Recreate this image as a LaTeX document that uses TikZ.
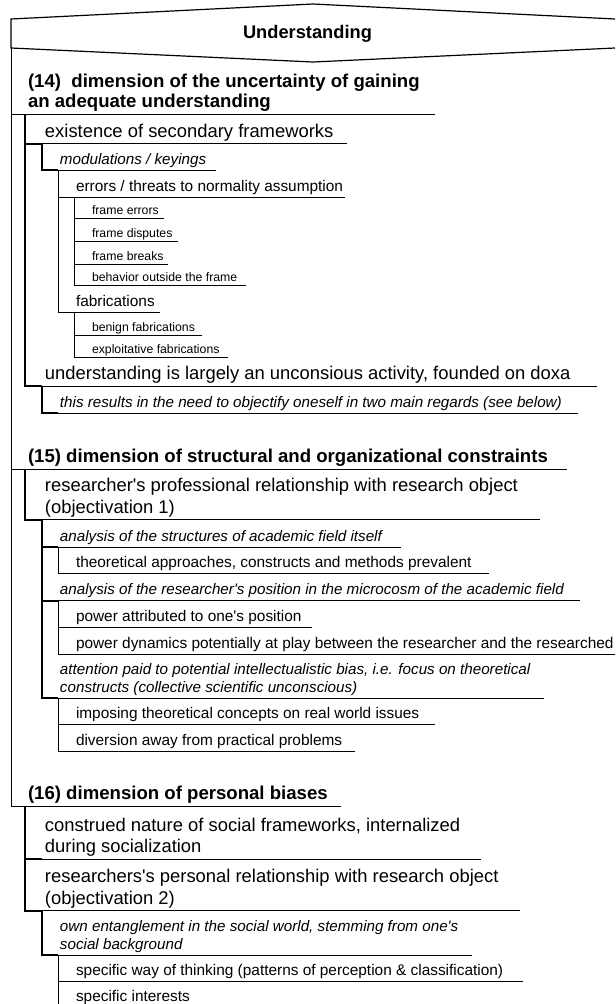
\documentclass[tikz,border=0pt]{standalone}
\usepackage{fontspec}
% keep the straight apostrophe of the font
\setmainfont{Liberation Sans}[Ligatures=TeXOff]
\begin{document}
\begin{tikzpicture}[x=0.75pt,y=-0.75pt,
  line join=miter,
  thinedge/.style={line width=0.75pt},
  thickedge/.style={line width=1.5pt},
  uline/.style={line width=0.75pt},
  lbl/.style={anchor=base west, inner sep=0pt, outer sep=0pt},
  fhead/.style={font=\fontsize{13.95}{15}\selectfont\bfseries},
  fbig/.style={font=\fontsize{13.8}{16.1}\selectfont},
  fital/.style={font=\fontsize{11.4}{13.5}\selectfont\itshape},
  fmid/.style={font=\fontsize{11.55}{13.5}\selectfont},
  fsmall/.style={font=\fontsize{9.2}{11}\selectfont}]
\useasboundingbox (0,0) rectangle (615,1004);
\clip (0,0) rectangle (615,1004);

% title banner
\coordinate (hdrBL) at (11,48);
\draw[line width=0.9pt] (615,19) -- (313,4) -- (11,19) -- (hdrBL) -- (313,62) -- (615,48);
\node[inner sep=0pt, anchor=base, font=\fontsize{13.7}{15}\selectfont\bfseries] (root) at (307.5,38.5) {Understanding};

% ---------- anchors of the underlines (start points) ----------
\coordinate (h14) at (25,114);
\coordinate (h15) at (25,469);
\coordinate (h16) at (25,806);
\coordinate (a1) at (42,143.5);
\coordinate (a2) at (42,386);
\coordinate (b1) at (42,519.5);
\coordinate (c1) at (42,859);
\coordinate (c2) at (42,910.5);
\coordinate (a11) at (58,170);
\coordinate (a21) at (58,413);
\coordinate (b11) at (58,547);
\coordinate (b12) at (58,600.5);
\coordinate (b13) at (58,698);
\coordinate (c21) at (58,955);
\coordinate (a111) at (74,197.5);
\coordinate (a112) at (74,312);
\coordinate (b111) at (74,573.5);
\coordinate (b121) at (74,627.5);
\coordinate (b122) at (74,654);
\coordinate (b131) at (74,724.5);
\coordinate (b132) at (74,751.5);
\coordinate (c211) at (74,981.5);
\coordinate (c212) at (74,1008);
\coordinate (f1) at (90,218.5);
\coordinate (f2) at (90,241.5);
\coordinate (f3) at (90,264);
\coordinate (f4) at (90,285.5);
\coordinate (g1) at (90,335.5);
\coordinate (g2) at (90,357);

% ---------- texts ----------
\node[lbl, fhead] (t14) at (28,107.5) {\begin{tabular}[b]{@{}l@{}}(14)\ \ dimension of the uncertainty of gaining\\ an adequate understanding\end{tabular}};
\node[lbl, fhead] (t15) at (28,462.5) {(15) dimension of structural and organizational constraints};
\node[lbl, fhead] (t16) at (28,799.5) {(16) dimension of personal biases};

\node[lbl, fbig] (ta1) at (45,137) {existence of secondary frameworks};
\node[lbl, fbig] (ta2) at (45,379.5) {understanding is largely an unconsious activity, founded on doxa};
\node[lbl, fbig] (tb1) at (45,513) {\begin{tabular}[b]{@{}l@{}}researcher's professional relationship with research object\\ (objectivation 1)\end{tabular}};
\node[lbl, fbig] (tc1) at (45,852.5) {\begin{tabular}[b]{@{}l@{}}construed nature of social frameworks, internalized\\ during socialization\end{tabular}};
\node[lbl, fbig] (tc2) at (45,904) {\begin{tabular}[b]{@{}l@{}}researchers's personal relationship with research object\\ (objectivation 2)\end{tabular}};

\node[lbl, fital] (ta11) at (60,164) {modulations / keyings};
\node[lbl, fital] (ta21) at (60,407) {this results in the need to objectify oneself in two main regards (see below)};
\node[lbl, fital] (tb11) at (60,541) {analysis of the structures of academic field itself};
\node[lbl, fital] (tb12) at (60,594.5) {analysis of the researcher's position in the microcosm of the academic field};
\node[lbl, fital] (tb13) at (60,692) {\begin{tabular}[b]{@{}l@{}}attention paid to potential intellectualistic bias, i.e. focus on theoretical\\ constructs (collective scientific unconscious)\end{tabular}};
\node[lbl, fital] (tc21) at (60,949) {\begin{tabular}[b]{@{}l@{}}own entanglement in the social world, stemming from one's\\ social background\end{tabular}};

\node[lbl, fmid] (ta111) at (76,191.5) {errors / threats to normality assumption};
\node[lbl, fmid] (ta112) at (76,306) {fabrications};
\node[lbl, fmid] (tb111) at (76,567.5) {theoretical approaches, constructs and methods prevalent};
\node[lbl, fmid] (tb121) at (76,621.5) {power attributed to one's position};
\node[lbl, fmid] (tb122) at (76,648) {power dynamics potentially at play between the researcher and the researched};
\node[lbl, fmid] (tb131) at (76,718.5) {imposing theoretical concepts on real world issues};
\node[lbl, fmid] (tb132) at (76,745.5) {diversion away from practical problems};
\node[lbl, fmid] (tc211) at (76,975.5) {specific way of thinking (patterns of perception \& classification)};
\node[lbl, fmid] (tc212) at (76,1001) {specific interests};

\node[lbl, fsmall] (tf1) at (92,214.5) {frame errors};
\node[lbl, fsmall] (tf2) at (92,237.5) {frame disputes};
\node[lbl, fsmall] (tf3) at (92,260) {frame breaks};
\node[lbl, fsmall] (tf4) at (92,281.5) {behavior outside the frame};
\node[lbl, fsmall] (tg1) at (92,331.5) {benign fabrications};
\node[lbl, fsmall] (tg2) at (92,353) {exploitative fabrications};

% ---------- underlines ----------
\draw[uline] (h14) -- (435,114);
\draw[uline] (h15) -- (567,469);
\draw[uline] (h16) -- (341,806);
\draw[uline] (a1) -- (347,143.5);
\draw[uline] (a2) -- (597,386);
\draw[uline] (b1) -- (540,519.5);
\draw[uline] (c1) -- (481,859);
\draw[uline] (c2) -- (520,910.5);
\draw[uline] (a11) -- (216,170);
\draw[uline] (a21) -- (578,413);
\draw[uline] (b11) -- (401,547);
\draw[uline] (b12) -- (580,600.5);
\draw[uline] (b13) -- (544,698);
\draw[uline] (c21) -- (472,955);
\draw[uline] (a111) -- (345,197.5);
\draw[uline] (a112) -- (160,312);
\draw[uline] (b111) -- (489,573.5);
\draw[uline] (b121) -- (312,627.5);
\draw[uline] (b122) -- (620,654);
\draw[uline] (b131) -- (435,724.5);
\draw[uline] (b132) -- (355,751.5);
\draw[uline] (c211) -- (523,981.5);
\draw[uline] (c212) -- (230,1008);
\draw[uline] (f1) -- (164,218.5);
\draw[uline] (f2) -- (178,241.5);
\draw[uline] (f3) -- (168,264);
\draw[uline] (f4) -- (246,285.5);
\draw[uline] (g1) -- (202,335.5);
\draw[uline] (g2) -- (228,357);

% ---------- connectors ----------
\draw[thinedge] (hdrBL) |- (h14);
\draw[thinedge] (hdrBL) |- (h15);
\draw[thinedge] (hdrBL) |- (h16);

\draw[thickedge] (h14) |- (a1);
\draw[thickedge] (h14) |- (a2);
\draw[thickedge] (a1) |- (a11);
\draw[thinedge] (a11) |- (a111);
\draw[thinedge] (a11) |- (a112);
\draw[thinedge] (a111) |- (f1);
\draw[thinedge] (a111) |- (f2);
\draw[thinedge] (a111) |- (f3);
\draw[thinedge] (a111) |- (f4);
\draw[thinedge] (a112) |- (g1);
\draw[thinedge] (a112) |- (g2);
\draw[thickedge] (a2) |- (a21);

\draw[thickedge] (h15) |- (b1);
\draw[thickedge] (b1) |- (b11);
\draw[thickedge] (b1) |- (b12);
\draw[thickedge] (b1) |- (b13);
\draw[thinedge] (b11) |- (b111);
\draw[thinedge] (b12) |- (b121);
\draw[thinedge] (b12) |- (b122);
\draw[thinedge] (b13) |- (b131);
\draw[thinedge] (b13) |- (b132);

\draw[thickedge] (h16) |- (c1);
\draw[thickedge] (h16) |- (c2);
\draw[thickedge] (c2) |- (c21);
\draw[thinedge] (c21) |- (c211);
\draw[thinedge] (c21) |- (c212);
\end{tikzpicture}
\end{document}
